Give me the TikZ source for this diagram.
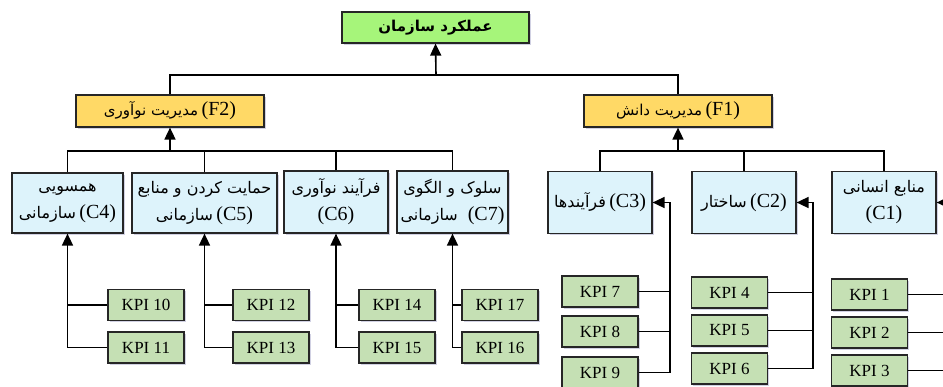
\documentclass[tikz,border=0pt]{standalone}
\usepackage{fontspec}
\setmainfont{Liberation Serif}
\newfontfamily\fafont[Script=Arabic]{DejaVu Sans}
\TeXXeTstate=1
\usetikzlibrary{arrows.meta,shadows}
\newcommand\fatxt[1]{{\fafont\beginR #1\endR}}
\newcommand\fac[1]{\fatxt{\fontsize{16}{20}\selectfont #1}}
\newcommand\faf[1]{\fatxt{\fontsize{15}{18}\selectfont #1}}
\definecolor{topg}{HTML}{A6F57A}
\definecolor{fyel}{HTML}{FFD966}
\definecolor{cblue}{HTML}{DDF3FB}
\definecolor{kgreen}{HTML}{C5E0B4}
\definecolor{bord}{HTML}{262626}
\begin{document}
\begin{tikzpicture}[x=1pt,y=-1pt,
  box/.style={draw=bord, line width=1.2pt, inner sep=0pt, align=center,
    drop shadow={opacity=0.18, shadow xshift=1.5pt, shadow yshift=-1.5pt, fill=blue!40!black}},
  topbox/.style={box, fill=topg, minimum width=187pt, minimum height=31pt,
    font=\fontsize{16}{19}\selectfont\bfseries},
  fbox/.style={box, fill=fyel, minimum width=188pt, minimum height=32pt,
    font=\fontsize{20}{22}\selectfont},
  cbox/.style={box, fill=cblue, minimum width=104pt, minimum height=62pt,
    font=\fontsize{20}{27}\selectfont},
  kpi/.style={box, fill=kgreen, minimum width=76pt, minimum height=31pt,
    font=\fontsize{17}{19}\selectfont},
  conn/.style={line width=1.6pt},
  arr/.style={conn, -{Triangle[length=12pt,width=11pt]}}
]
\useasboundingbox (0,0) rectangle (943,386);

% top
\node[topbox] (top) at (435.5,27.5) {\fatxt{\fontsize{15}{18}\selectfont عملکرد سازمان}};
\node[fbox] (F2) at (170,111) {\faf{مدیریت نوآوری}\,(F2)};
\node[fbox] (F1) at (678,111) {\faf{مدیریت دانش}\,(F1)};

% criteria
\node[cbox, minimum width=111pt, minimum height=60pt] (C4) at (67.5,203)
  {\fac{همسویی}\\ \fac{سازمانی}\,(C4)};
\node[cbox, minimum width=145pt, minimum height=60pt] (C5) at (204.5,203)
  {\fac{حمایت کردن و منابع}\\ \fac{سازمانی}\,(C5)};
\node[cbox] (C6) at (336,202)
  {\fac{فرآیند نوآوری}\\ (C6)};
\node[cbox, minimum width=111pt] (C7) at (452.5,202)
  {\fac{سلوک و الگوی}\\ \fac{سازمانی}\ \ (C7)};
\node[cbox] (C3) at (600,202.5)
  {\fac{فرآیندها}\,(C3)};
\node[cbox] (C2) at (744,202.5)
  {\fac{ساختار}\,(C2)};
\node[cbox] (C1) at (884,202.5)
  {\fac{منابع انسانی}\\ (C1)};

% KPIs
\node[kpi] (K10) at (146,305) {KPI 10};
\node[kpi] (K11) at (146,347.5) {KPI 11};
\node[kpi] (K12) at (271,305) {KPI 12};
\node[kpi] (K13) at (271,347.5) {KPI 13};
\node[kpi] (K14) at (397,305) {KPI 14};
\node[kpi] (K15) at (397,347.5) {KPI 15};
\node[kpi] (K17) at (500,305) {KPI 17};
\node[kpi] (K16) at (500,347.5) {KPI 16};
\node[kpi] (K7) at (600,291.5) {KPI 7};
\node[kpi] (K8) at (600,331.5) {KPI 8};
\node[kpi] (K9) at (600,372.5) {KPI 9};
\node[kpi] (K4) at (729.5,292.5) {KPI 4};
\node[kpi] (K5) at (729.5,330.5) {KPI 5};
\node[kpi] (K6) at (729.5,368.5) {KPI 6};
\node[kpi] (K1) at (869.5,294.5) {KPI 1};
\node[kpi] (K2) at (869.5,332.5) {KPI 2};
\node[kpi] (K3) at (869.5,370.5) {KPI 3};

% top level connectors
\coordinate (jt) at (436,75);
\draw[conn, line width=1.3pt] (F2.north) |- (jt) -| (F1.north);
\draw[arr] (jt) -- (top.south);

\coordinate (j2) at (170,151);
\draw[conn] (C4.north) |- (j2) -| (C7.north);
\draw[conn] (C5.north) |- (j2);
\draw[conn] (C6.north) |- (j2);
\draw[arr] (j2) -- (F2.south);

\coordinate (j1) at (678,151);
\draw[conn] (C3.north) |- (j1) -| (C1.north);
\draw[conn] (C2.north) |- (j1);
\draw[arr] (j1) -- (F1.south);

% KPI connectors, left group
\draw[arr] (K11.west) -| (C4.south);
\draw[conn] (K10.west) -- (K10.west -| C4.south);
\draw[arr] (K13.west) -| (C5.south);
\draw[conn] (K12.west) -- (K12.west -| C5.south);
\draw[arr] (K15.west) -| (C6.south);
\draw[conn] (K14.west) -- (K14.west -| C6.south);
\draw[arr] (K16.west) -| (C7.south);
\draw[conn] (K17.west) -- (K17.west -| C7.south);

% KPI connectors, right group
\coordinate (v3) at (670,202.5);
\draw[arr] (K9.east) -| (v3) -- (C3.east);
\draw[conn] (K7.east) -- (K7.east -| v3);
\draw[conn] (K8.east) -- (K8.east -| v3);

\coordinate (v2) at (813,202.5);
\draw[arr] (K6.east) -| (v2) -- (C2.east);
\draw[conn] (K4.east) -- (K4.east -| v2);
\draw[conn] (K5.east) -- (K5.east -| v2);

\coordinate (v1) at (955,202.5);
\draw[arr] (K3.east) -| (v1) -- (C1.east);
\draw[conn] (K1.east) -- (K1.east -| v1);
\draw[conn] (K2.east) -- (K2.east -| v1);
\end{tikzpicture}
\end{document}
